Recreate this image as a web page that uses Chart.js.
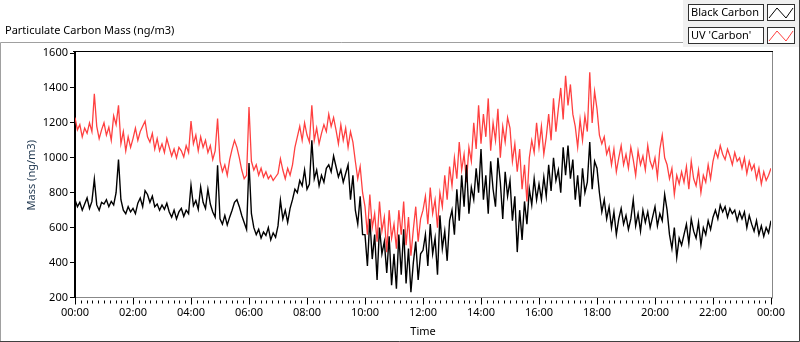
<!DOCTYPE html>
<html>
<head>
<meta charset="utf-8">
<script src="https://cdn.jsdelivr.net/npm/chart.js@4/dist/chart.umd.min.js"></script>
<style>
  html, body { margin: 0; padding: 0; background: #fff; }
</style>
</head>
<body>
<canvas id="chart" width="800" height="342"></canvas>
<script>
// values, one every 5 minutes from 00:00 to 24:00
const chartTitle = 'Particulate Carbon Mass (ng/m3)';
const seriesNames = ['Black Carbon', "UV 'Carbon'"];
const seriesColors = ['#000000', '#ff4040'];
const tickLabels = ['00:00', '02:00', '04:00', '06:00', '08:00', '10:00', '12:00',
                    '14:00', '16:00', '18:00', '20:00', '22:00', '00:00'];
const stepMinutes = 5;

const blackCarbon = [
  760, 720, 745, 700, 735, 770, 710, 750, 877, 730, 700, 745,
  735, 760, 720, 750, 730, 800, 990, 760, 700, 680, 720, 690,
  710, 680, 740, 770, 720, 812, 790, 745, 780, 720, 735, 700,
  730, 705, 740, 690, 660, 700, 650, 690, 710, 665, 700, 680,
  843, 725, 755, 705, 833, 745, 710, 820, 735, 690, 660, 957,
  650, 620, 670, 615, 660, 700, 745, 760, 720, 670, 630, 590,
  970, 680, 600, 560, 590, 540, 575, 555, 600, 530, 570, 545,
  610, 757, 650, 700, 630, 710, 760, 820, 800, 870, 840, 930,
  820, 850, 1100, 880, 930, 840, 900, 860, 940, 960, 920, 1010,
  950, 890, 930, 860, 910, 960, 760, 900, 700, 620, 780, 560,
  560, 380, 650, 420, 560, 300, 600, 450, 520, 340, 550, 270,
  450, 250, 560, 330, 590, 280, 480, 230, 400, 520, 300, 450,
  470, 560, 380, 620, 450, 540, 330, 670, 480, 580, 410, 640,
  700, 560, 820, 640, 900, 720, 960, 680, 830, 760, 940, 800,
  1050, 760, 900, 680, 980, 820, 720, 1000, 860, 650, 920, 780,
  870, 640, 780, 460, 700, 530, 750, 620, 820, 730, 880, 760,
  850, 760, 890, 780, 960, 810, 1000, 870, 930, 800, 1060, 900,
  1070, 880, 990, 760, 900, 720, 940, 800, 860, 1090, 820, 980,
  940, 800, 690, 760, 650, 720, 600, 690, 560, 650, 710, 620,
  670, 590, 650, 760, 610, 680, 580, 700, 630, 690, 600, 660,
  720, 610, 680, 640, 790, 700, 560, 480, 600, 430, 540, 500,
  560, 620, 510, 650, 580, 540, 630, 500, 600, 560, 640, 590,
  660, 700, 650, 730, 690, 720, 660, 710, 680, 700, 640, 690,
  650, 690, 600, 670, 620, 580, 640, 560, 610, 550, 600, 570,
  640
];

const uvCarbon = [
  1230, 1160, 1190, 1120, 1170, 1140, 1200, 1150, 1366, 1180, 1110, 1160,
  1200, 1130, 1175, 1100, 1240, 1190, 1300, 1080, 1150, 1040, 1120, 1060,
  1110, 1170, 1100, 1150, 1180, 1210, 1120, 1090, 1140, 1050, 1110, 1040,
  1080, 1030, 1110, 1060, 1010, 1050, 1000, 1060, 1040, 1005, 1070, 1030,
  1210, 1080, 1130, 1040, 1120, 1060, 1100, 1030, 1070, 990, 1040, 1225,
  980, 920, 960, 900, 990, 1050, 1100, 1060, 1000, 930, 880, 900,
  1290, 980, 930, 960, 900, 940, 890, 920, 880, 900, 870, 890,
  910, 995, 930, 880, 940, 900, 960, 1060, 1120, 1180, 1100, 1200,
  1130, 1090, 1300, 1100, 1170, 1080, 1140, 1190, 1150, 1250, 1180, 1230,
  1160, 1080, 1190, 1100, 1170, 1060, 1150, 1090, 980, 880, 950, 800,
  720, 560, 790, 600, 680, 520, 750, 580, 660, 460, 700, 540,
  620, 480, 700, 560, 750, 500, 660, 440, 590, 720, 520, 650,
  700, 780, 620, 830, 680, 760, 600, 800, 720, 900, 760, 950,
  840, 1000, 880, 1090, 930, 1020, 860, 1060, 980, 1200, 1050, 1300,
  1080, 1250, 1120, 1340, 1040, 1200, 1100, 1280, 1000, 1180, 1090, 1230,
  1170, 980, 1080, 920, 1050, 820, 960, 750, 1000, 1100, 1030, 1200,
  1060, 1180, 1020, 1120, 1250, 1100, 1340, 1150, 1280, 1400, 1220, 1470,
  1300, 1420, 1250, 1180, 1060, 1220, 1100, 1240, 1150, 1490, 1200, 1380,
  1280, 1130, 1080, 1120, 1020, 1060, 960, 1050, 920, 1000, 1070, 960,
  1020, 940, 1060, 990, 900, 1040, 960, 1010, 930, 1070, 980, 940,
  1000, 890, 1050, 1130, 1000, 960, 880, 940, 790, 900, 850, 920,
  860, 950, 820, 980, 880, 840, 930, 800, 900, 860, 960, 880,
  980, 1040, 1000, 1070, 1020, 990, 1050, 1010, 960, 1030, 980, 1000,
  940, 1000, 910, 980, 930, 960, 880, 940, 850, 920, 870, 900,
  940
];

const FONT = '"Noto Sans", "DejaVu Sans", sans-serif';

const toPoints = values => values.map((v, i) => ({x: i * stepMinutes, y: v}));

// frame, title, minor ticks and the LabVIEW-style legend
const chrome = {
  id: 'chrome',
  beforeDraw(chart) {
    const {ctx, width, height} = chart;
    ctx.save();
    ctx.fillStyle = '#fff';
    ctx.fillRect(0, 0, width, height);
    ctx.fillStyle = '#f0f0f0';
    ctx.fillRect(683, 0, 116, 47);
    ctx.restore();
  },
  afterDraw(chart) {
    const {ctx, chartArea: a} = chart;
    const x = chart.scales.x;
    ctx.save();
    ctx.lineWidth = 1;

    // outer panel
    ctx.strokeStyle = '#a0a0a0';
    ctx.beginPath();
    ctx.moveTo(683, 42.5); ctx.lineTo(0.5, 42.5); ctx.lineTo(0.5, 342);
    ctx.stroke();
    ctx.strokeStyle = '#404040';
    ctx.beginPath();
    ctx.moveTo(0, 341.5); ctx.lineTo(799.5, 341.5); ctx.lineTo(799.5, 0);
    ctx.stroke();

    // plot frame top and right
    ctx.strokeStyle = '#000';
    ctx.beginPath();
    ctx.moveTo(a.left - 2, a.top - 1.5); ctx.lineTo(a.right + 2, a.top - 1.5);
    ctx.stroke();
    ctx.strokeStyle = '#888';
    ctx.beginPath();
    ctx.moveTo(a.right + 1.5, a.top - 1); ctx.lineTo(a.right + 1.5, a.bottom + 1);
    ctx.stroke();

    // minor ticks every 12 minutes
    ctx.strokeStyle = '#000';
    ctx.beginPath();
    for (let m = 12; m < 1440; m += 12) {
      if (m % 120 === 0) continue;
      const px = Math.round(x.getPixelForValue(m)) + 0.5;
      ctx.moveTo(px, a.bottom + 3);
      ctx.lineTo(px, a.bottom + 6);
    }
    ctx.stroke();

    // title
    ctx.fillStyle = '#000';
    ctx.font = '11px ' + FONT;
    ctx.textBaseline = 'middle';
    ctx.textAlign = 'left';
    ctx.fillText(chartTitle, 5, 31);

    // legend
    chart.data.datasets.forEach((ds, i) => {
      const y = 4 + i * 23;
      ctx.fillStyle = '#fff';
      ctx.fillRect(688, y, 75, 16);
      ctx.fillRect(767, y, 27, 16);
      ctx.strokeStyle = '#303030';
      ctx.strokeRect(688.5, y + 0.5, 75, 16);
      ctx.strokeRect(767.5, y + 0.5, 27, 16);
      ctx.fillStyle = '#000';
      ctx.fillText(ds.label, 691, y + 9);
      ctx.strokeStyle = ds.borderColor;
      ctx.lineWidth = 1;
      ctx.beginPath();
      ctx.moveTo(769, y + 14); ctx.lineTo(777, y + 4);
      ctx.lineTo(786, y + 14); ctx.lineTo(793, y + 4);
      ctx.stroke();
    });
    ctx.restore();
  }
};

new Chart(document.getElementById('chart'), {
  type: 'line',
  data: {
    datasets: [
      {label: seriesNames[0], data: toPoints(blackCarbon), borderColor: seriesColors[0], borderWidth: 1.4},
      {label: seriesNames[1], data: toPoints(uvCarbon), borderColor: seriesColors[1], borderWidth: 1.3}
    ]
  },
  options: {
    responsive: false,
    animation: false,
    layout: {padding: {top: 53, right: 29, left: 0, bottom: 0}},
    elements: {point: {radius: 0}, line: {tension: 0}},
    plugins: {legend: {display: false}, tooltip: {enabled: false}},
    scales: {
      x: {
        type: 'linear',
        min: 0,
        max: 1440,
        afterFit(s) { s.height = 44.5; },
        ticks: {
          stepSize: 120,
          autoSkip: false,
          maxRotation: 0,
          color: '#000',
          font: {family: FONT, size: 11},
          padding: 2,
          callback: v => tickLabels[Math.round(v / 120)]
        },
        grid: {drawOnChartArea: false, tickLength: 7, tickColor: '#000'},
        border: {color: '#888'},
        title: {display: true, text: 'Time', color: '#000', font: {family: FONT, size: 11}, padding: {top: 0, bottom: 4}}
      },
      y: {
        min: 200,
        max: 1600,
        afterFit(s) { s.width = 75; },
        ticks: {stepSize: 200, color: '#000', font: {family: FONT, size: 11}, padding: 2, callback: v => String(v)},
        grid: {drawOnChartArea: false, tickLength: 5, tickColor: '#000'},
        border: {color: '#000', width: 2},
        title: {display: true, text: 'Mass (ng/m3)', color: '#233a52', font: {family: FONT, size: 11}, padding: {top: 25, bottom: 0}}
      }
    }
  },
  plugins: [chrome]
});
</script>
</body>
</html>
